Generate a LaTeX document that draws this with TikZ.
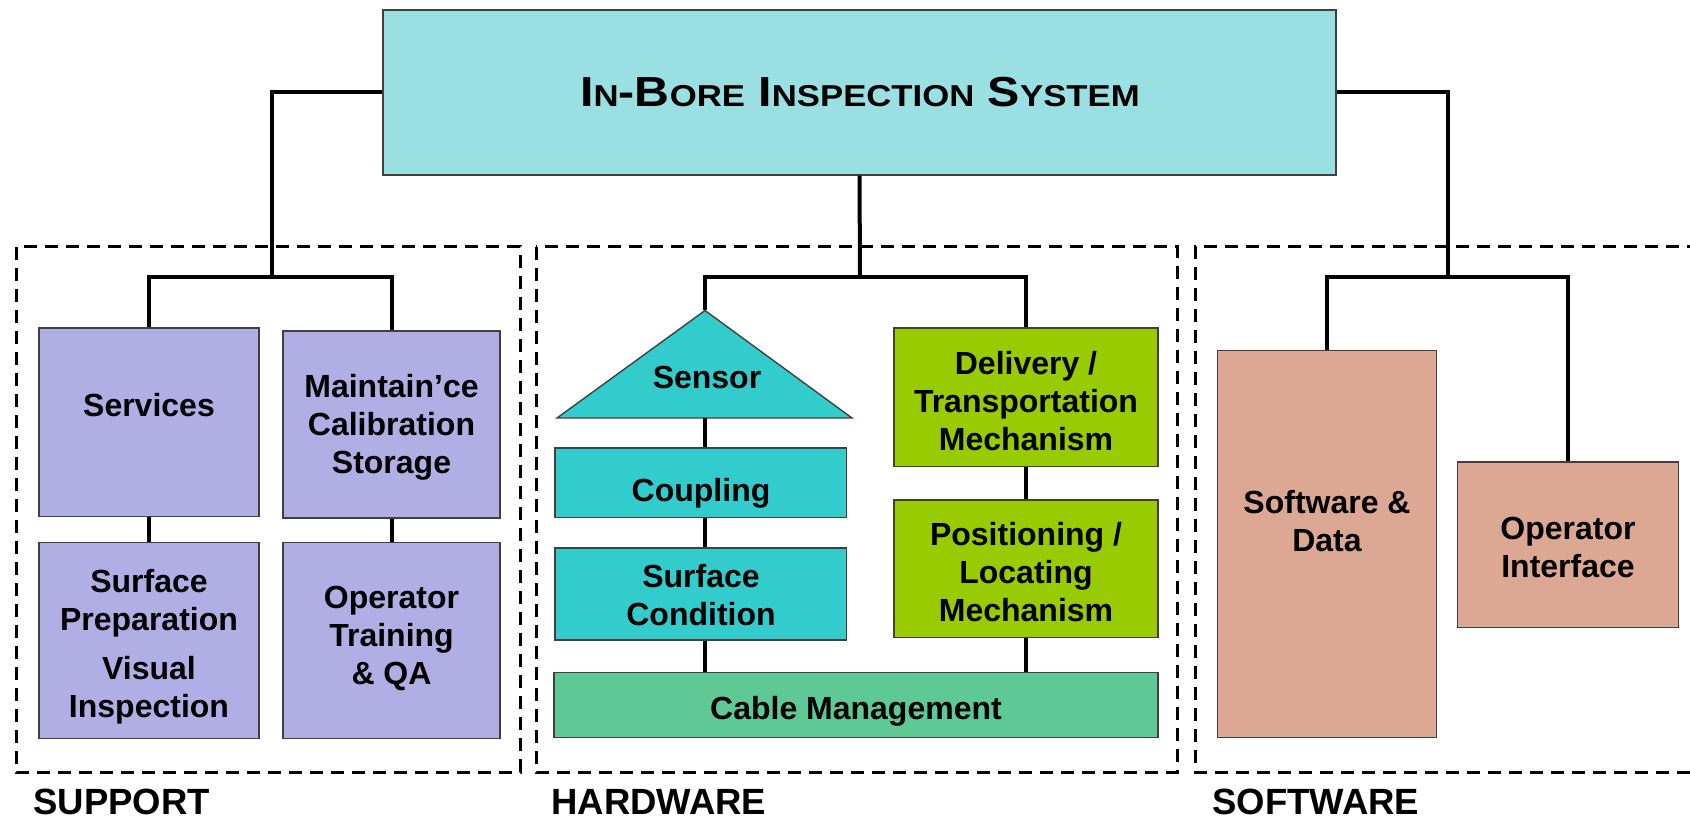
\documentclass[tikz,border=0pt]{standalone}
\usepackage{fontspec}
\setmainfont{Liberation Sans}
\usetikzlibrary{fit}
\definecolor{topc}{HTML}{9ADFE2}
\definecolor{lav}{HTML}{B0AEE4}
\definecolor{turq}{HTML}{33CCCC}
\definecolor{limec}{HTML}{99CC00}
\definecolor{cablec}{HTML}{5EC994}
\definecolor{salmon}{HTML}{DDA893}
\newcommand\smc[1]{{\fontsize{15.1}{18}\selectfont #1}}
\begin{document}
\begin{tikzpicture}[x=0.5pt,y=-0.5pt,
  box/.style={draw=black!75, line width=0.7pt, inner sep=0pt},
  conn/.style={line width=2pt, line join=miter},
  grp/.style={line width=1.5pt, dash pattern=on 6.5pt off 4pt},
  txt/.style={font=\bfseries\fontsize{16}{19}\selectfont, align=center, inner sep=0pt},
  lbl/.style={font=\bfseries\fontsize{18.25}{22}\selectfont, anchor=west, inner sep=0pt}]
\useasboundingbox (0,0) rectangle (1690,822);
\fill[white] (0,0) rectangle (1690,822);

% group frames
\draw[grp] (16,247) rectangle (520,772);
\draw[grp] (536,247) rectangle (1177,772);
\draw[grp] (1700,247) -- (1195,247) -- (1195,772) -- (1700,772);

% top box
\node[box, fill=topc, fit={(383,10) (1336,175)}] (top) {};
\node[inner sep=0pt, anchor=base] (title) at (860,106.5) {\scalebox{1.15}[1]{\bfseries\fontsize{21}{24}\selectfont I\smc{N}-B\smc{ORE} I\smc{NSPECTION} S\smc{YSTEM}}};

% support
\node[box, fill=lav, fit={(39,328) (259,516.5)}] (services) {};
\node[box, fill=lav, fit={(283,331) (500,518)}] (maint) {};
\node[box, fill=lav, fit={(39,542.5) (259,738.5)}] (surfprep) {};
\node[box, fill=lav, fit={(283,542.5) (500,738.5)}] (optrain) {};
\node[txt] (services-t) at (149,405) {Services};
\node[txt] (maint-t) at (391.5,427) {Maintain’ce\\Calibration\\Storage};
\node[txt] (surfprep-t) at (149,647) {Surface\\Preparation\\[5.5pt]Visual\\Inspection};
\node[txt] (optrain-t) at (391.5,638) {Operator\\Training\\\& QA};

% hardware
\coordinate (apex) at (705,310.5);
\coordinate (tl) at (557,418);
\coordinate (tr) at (852,418);
\coordinate (basemid) at (704.5,418);
\filldraw[draw=black!75, line width=0.7pt, fill=turq] (tl) -- (apex) -- (tr) -- cycle;
\node[box, fill=turq, fit={(555,448) (846.5,517.6)}] (coupling) {};
\node[box, fill=turq, fit={(555,548) (846.5,640)}] (surfcond) {};
\node[box, fill=cablec, fit={(554,672.4) (1158,737.4)}] (cable) {};
\node[box, fill=limec, fit={(894,328) (1158,466.4)}] (delivery) {};
\node[box, fill=limec, fit={(894,500) (1158,637.2)}] (positioning) {};
\node[txt] (sensor-t) at (707,377) {Sensor};
\node[txt] (coupling-t) at (701,493) {Coupling};
\node[txt] (surfcond-t) at (701,595) {Surface\\Condition};
\node[txt] (cable-t) at (856,711) {Cable Management};
\node[txt] (delivery-t) at (1026,401) {Delivery /\\Transportation\\Mechanism};
\node[txt] (positioning-t) at (1026,572) {Positioning /\\Locating\\Mechanism};

% software
\node[box, fill=salmon, fit={(1217.3,350.6) (1436.7,737.4)}] (swdata) {};
\node[box, fill=salmon, fit={(1457.3,462) (1678.3,627.2)}] (opint) {};
\node[txt] (swdata-t) at (1327,521) {Software \&\\Data};
\node[txt] (opint-t) at (1568,547) {Operator\\Interface};

% connectors
\coordinate (supbar) at (272,277);
\coordinate (hwbar) at (860,277);
\coordinate (swbar) at (1448,277);
\draw[conn] (top.west) -| (supbar);
\draw[conn] (services.north) |- (supbar) -| (maint.north);
\draw[conn] (services.south) -- (surfprep.north);
\draw[conn] (maint.south) -- (optrain.north);
\draw[conn] (top.south) -- (hwbar);
\draw[conn] (apex) |- (hwbar) -| (delivery.north);
\draw[conn] (basemid) -- (coupling.north -| basemid);
\draw[conn] (coupling.south -| basemid) -- (surfcond.north -| basemid);
\draw[conn] (surfcond.south -| basemid) -- (cable.north -| basemid);
\draw[conn] (delivery.south) -- (positioning.north);
\draw[conn] (positioning.south) -- (cable.north -| positioning.south);
\draw[conn] (top.east) -| (swbar);
\draw[conn] (swdata.north) |- (swbar) -| (opint.north);

% group labels
\node[lbl] (support-l) at (33,802) {SUPPORT};
\node[lbl] (hardware-l) at (551,802) {HARDWARE};
\node[lbl] (software-l) at (1212,802) {SOFTWARE};
\end{tikzpicture}
\end{document}
